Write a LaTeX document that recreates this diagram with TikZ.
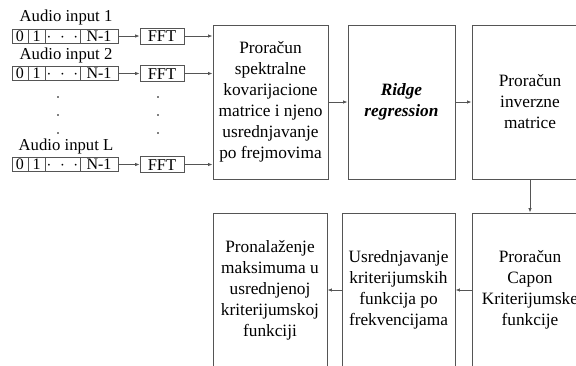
\documentclass[tikz,border=0pt]{standalone}
\usepackage{fontspec}
\setmainfont{Liberation Serif}
\usetikzlibrary{arrows.meta}
\definecolor{linegray}{HTML}{555555}
\tikzset{
  blockbox/.style={draw=linegray, line width=0.9pt, fill=white, align=center, inner sep=0pt,
    font=\fontsize{17.3}{21}\selectfont},
  cellbox/.style={draw=linegray, line width=0.8pt, inner sep=0pt, minimum height=14pt,
    text height=10.5pt, text depth=0pt, font=\fontsize{16}{16}\selectfont},
  fftbox/.style={draw=linegray, line width=0.8pt, inner sep=0pt, minimum width=44pt, minimum height=16pt,
    text height=11pt, text depth=0pt, font=\fontsize{16.5}{16.5}\selectfont},
  lbl/.style={inner sep=0pt, font=\fontsize{16.7}{16.7}\selectfont},
  conn/.style={draw=linegray, line width=0.8pt, -{Latex[length=4.5pt,width=3.5pt]}},
  dotmark/.style={circle, fill=black, inner sep=0pt, minimum size=1.8pt}
}
\begin{document}
\begin{tikzpicture}[x=1pt,y=-1pt]
\useasboundingbox (0,0) rectangle (576,365);
\clip (0,0) rectangle (576,365);

% main blocks
\node[blockbox, minimum width=115pt, minimum height=154pt] (cov) at (270.5,102)
  {Proračun\\spektralne\\kovarijacione\\matrice i njeno\\usrednjavanje\\po frejmovima};
\node[blockbox, minimum width=107pt, minimum height=154pt] (ridge) at (401.5,102)
  {\textbf{\textit{Ridge}}\\\textbf{\textit{regression}}};
\node[blockbox, minimum width=116pt, minimum height=154pt] (inv) at (530,102)
  {Proračun\\inverzne\\matrice};
\node[blockbox, minimum width=116pt, minimum height=154pt] (capon) at (530,290)
  {Proračun\\Capon\\Kriterijumske\\funkcije};
\node[blockbox, minimum width=113pt, minimum height=154pt] (avg) at (398.5,290)
  {Usrednjavanje\\kriterijumskih\\funkcija po\\frekvencijama};
\node[blockbox, minimum width=114pt, minimum height=154pt] (maxf) at (270,290)
  {Pronalaženje\\maksimuma u\\usrednjenoj\\kriterijumskoj\\funkciji};

% input rows
\foreach \r/\yy/\lab in {1/36/1, 2/73.5/2, L/164.5/L}{
  \node[lbl, anchor=base] (lab\r) at (66,\yy-14.5) {Audio input \lab};
  \node[cellbox, minimum width=16pt] (c0\r) at (20,\yy) {0};
  \node[cellbox, minimum width=17pt] (c1\r) at (36.5,\yy) {1};
  \node[cellbox, minimum width=35pt] (cd\r) at (62.5,\yy) {$\cdot\;\cdot\;\cdot$};
  \node[cellbox, minimum width=38pt] (cn\r) at (99,\yy) {N-1};
  \node[fftbox] (fft\r) at (162,\yy) {FFT};
  \draw[conn] (cn\r.east) -- (fft\r.west);
  \draw[conn] (fft\r.east) -- (cov.west |- fft\r.east);
}

% vertical dots
\foreach \yy [count=\i] in {97,115,133}{
  \node[dotmark] (dl\i) at (58,\yy) {};
  \node[dotmark] (dr\i) at (158,\yy) {};
}

% connectors between blocks
\draw[conn] (cov.east) -- (ridge.west);
\draw[conn] (ridge.east) -- (inv.west);
\draw[conn] (inv.south) -- (capon.north);
\draw[conn] (capon.west) -- (avg.east);
\draw[conn] (avg.west) -- (maxf.east);
\end{tikzpicture}
\end{document}
